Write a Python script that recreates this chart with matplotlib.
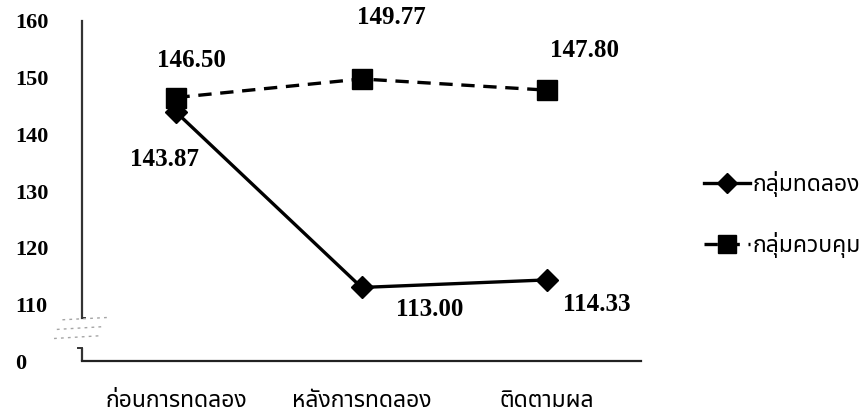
import matplotlib
matplotlib.use("Agg")
import matplotlib.pyplot as plt

# Data
stages = ["ก่อนการทดลอง", "หลังการทดลอง", "ติดตามผล"]
experimental = [143.87, 113.00, 114.33]
control = [146.50, 149.77, 147.80]
series_names = ["กลุ่มทดลอง", "กลุ่มควบคุม"]
tick_values = [100, 110, 120, 130, 140, 150, 160]
tick_labels = ["0", "110", "120", "130", "140", "150", "160"]

NUM_FONT = "Liberation Serif"
THAI_FONT = ["Noto Sans Thai", "DejaVu Sans"]

fig = plt.figure(figsize=(8.63, 4.19), dpi=100)
ax = fig.add_axes([0.095, 0.138, 0.648, 0.812])

x = list(range(len(stages)))
ax.plot(x, experimental, color="black", lw=2.4, marker="D", markersize=11,
        label=series_names[0], clip_on=False)
ax.plot(x, control, color="black", lw=2.4, ls=(0, (4, 2.6)), marker="s",
        markersize=14, label=series_names[1], clip_on=False)

ax.set_xlim(-0.51, 2.51)
ax.set_ylim(100, 160)

# value labels, offset in pixels from each point
exp_offsets = [(-12, -47), (68, -22), (50, -25)]
ctl_offsets = [(15, 37), (30, 61), (38, 40)]
for xi, v, off in zip(x, experimental, exp_offsets):
    ax.annotate(f"{v:.2f}", (xi, v), xytext=off, textcoords="offset pixels",
                ha="center", va="center", fontsize=18, fontweight="bold",
                family=NUM_FONT, annotation_clip=False)
for xi, v, off in zip(x, control, ctl_offsets):
    ax.annotate(f"{v:.2f}", (xi, v), xytext=off, textcoords="offset pixels",
                ha="center", va="center", fontsize=18, fontweight="bold",
                family=NUM_FONT, annotation_clip=False)

# axes styling
for side in ("top", "right"):
    ax.spines[side].set_visible(False)
ax.spines["left"].set_color("#333333")
ax.spines["bottom"].set_color("#222222")
ax.spines["left"].set_linewidth(1.6)
ax.spines["bottom"].set_linewidth(1.6)
ax.spines["left"].set_bounds(107.6, 160)

# lower piece of the broken y axis and the break marks
yt = ax.get_yaxis_transform()
ax.plot([0, 0], [100, 102.4], color="#333333", lw=1.6, transform=yt,
        clip_on=False, solid_capstyle="butt")
ax.plot([-0.008, 0.0], [102.4, 102.4], color="#333333", lw=1.4, transform=yt,
        clip_on=False)
ax.plot([0.0, 0.006], [107.6, 107.6], color="#333333", lw=1.4, transform=yt,
        clip_on=False)
for y0, y1, xa, xb in [(107.3, 107.7, -0.035, 0.045),
                       (105.6, 106.1, -0.045, 0.04),
                       (104.0, 104.5, -0.05, 0.035)]:
    ax.plot([xa, xb], [y0, y1], color="#a5a5a5", lw=1.0, ls=(0, (2, 3)),
            transform=yt, clip_on=False)

ax.set_yticks(tick_values)
ax.set_yticklabels(tick_labels, fontsize=16, fontweight="bold", family=NUM_FONT)
for lab in ax.get_yticklabels():
    lab.set_horizontalalignment("left")
ax.tick_params(axis="y", length=0, pad=48)

ax.set_xticks(x)
ax.set_xticklabels(stages, fontsize=16.5, fontweight="bold", family=THAI_FONT)
ax.tick_params(axis="x", length=0, pad=20)

leg = ax.legend(loc="center left", bbox_to_anchor=(0.803, 0.488),
                bbox_transform=fig.transFigure, frameon=False,
                prop={"family": THAI_FONT, "weight": "bold", "size": 16.5},
                handlelength=2.0, handletextpad=0.1, labelspacing=1.55,
                borderpad=0, markerscale=0.95)

fig.savefig("out.png", dpi=100, facecolor="white")
